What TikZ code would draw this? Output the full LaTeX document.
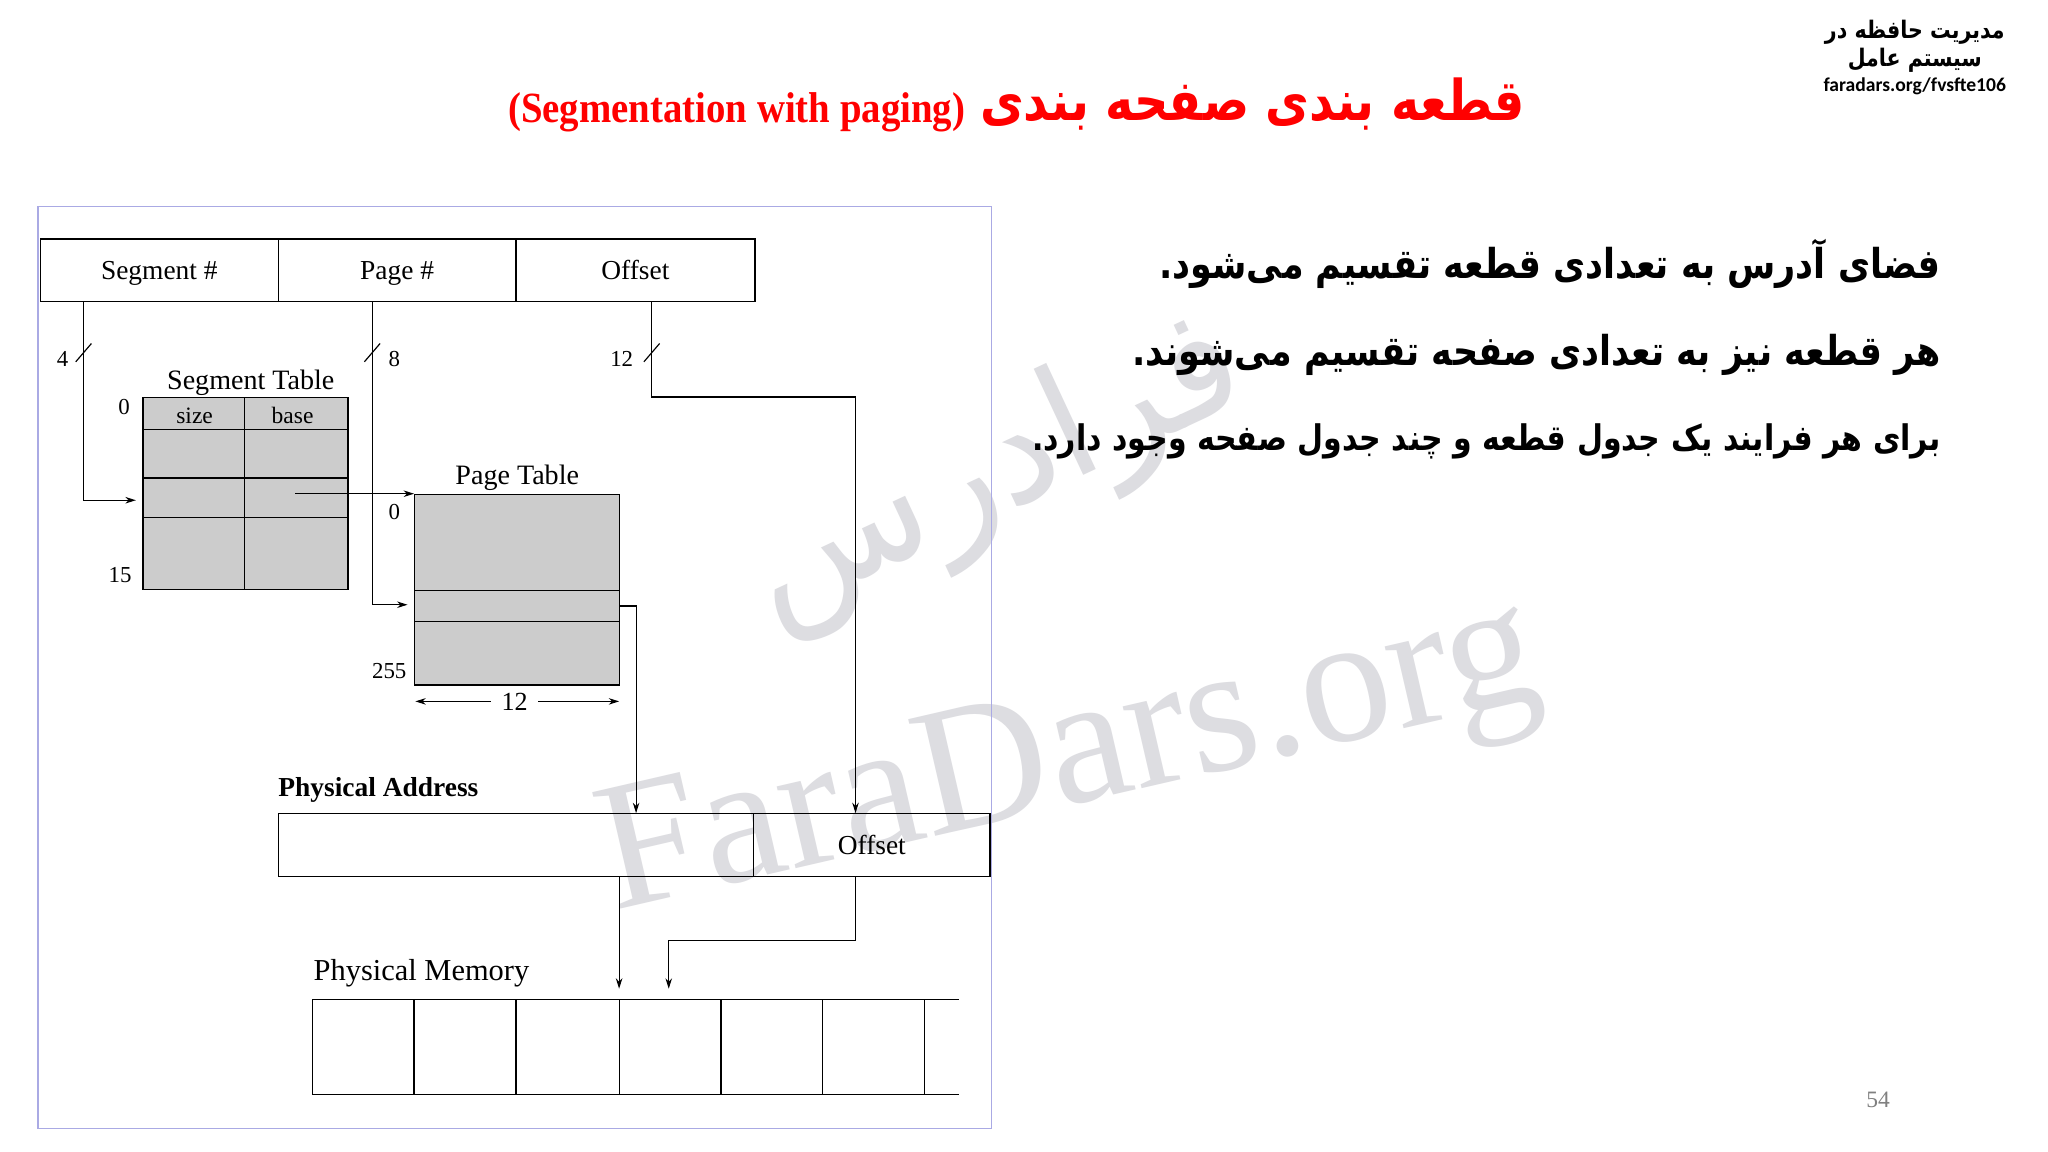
\documentclass[tikz,border=0pt]{standalone}
\usepackage{fontspec}
\setmainfont{Liberation Serif}
\newfontfamily\fa[Script=Arabic]{DejaVu Sans}
\newfontfamily\fanar[Script=Arabic,FakeStretch=0.85]{DejaVu Sans}
\newfontfamily\condserif[FakeStretch=0.9]{Liberation Serif}
\newfontfamily\calfont{Carlito}
\TeXXeTstate=1
\usetikzlibrary{arrows.meta,calc}
\definecolor{framec}{RGB}{170,170,228}
\definecolor{cellgray}{RGB}{204,204,204}
\definecolor{titlered}{RGB}{255,0,0}
\definecolor{wm}{RGB}{221,221,225}
\newcommand{\fs}[1]{\fontsize{#1}{#1}\selectfont}
\begin{document}
\begin{tikzpicture}[x=1pt,y=-1pt,
  ln/.style={line width=0.9pt},
  arr/.style={ln,-{Stealth[length=8pt,width=5pt]}},
  reg/.style={draw,ln,minimum height=48pt,inner sep=0pt,text height=14pt,text depth=0pt,font=\fs{21}},
  lbl/.style={inner sep=0pt,font=\fs{21.5}},
  small/.style={inner sep=0pt,font=\fs{17.5}},
  faline/.style={inner sep=0pt,anchor=east,font=\fanar\bfseries}
]
\useasboundingbox[fill=white] (0,0) rectangle (1568,882);

% watermarks
\node[inner sep=0pt,text=wm,rotate=25,font=\fa\fs{118}] (wmfa) at (762,362) {\beginR فرادرس\endR};
\node[inner sep=0pt,text=wm,rotate=13,font=\fs{140}] (wmen) at (820,585) {FaraDars.org};

% title
\node[inner sep=0pt,text=titlered,font=\fanar\bfseries\fs{43}] (tfa) at (959,80) {\beginR قطعه بندی صفحه بندی\endR};
\node[inner sep=0pt,text=titlered,font=\condserif\bfseries\fs{33}] (ten) at (564,86) {(Segmentation with paging)};

% top right
\node[inner sep=0pt,font=\fanar\bfseries\fs{18.5}] (tr1) at (1466,25) {\beginR مدیریت حافظه در\endR};
\node[inner sep=0pt,font=\fanar\bfseries\fs{18.5}] (tr2) at (1466,46) {\beginR سیستم عامل\endR};
\node[inner sep=0pt,font=\calfont\bfseries\fs{15}] (tr3) at (1466,66) {faradars.org/fvsfte106};

% right text
\node[faline,font=\fanar\bfseries\fs{31.5}] (b1) at (1486,202) {\beginR فضای آدرس به تعدادی قطعه تقسیم می‌شود.\endR};
\node[faline,font=\fanar\bfseries\fs{31.5}] (b2) at (1486,272) {\beginR هر قطعه نیز به تعدادی صفحه تقسیم می‌شوند.\endR};
\node[faline,font=\fanar\bfseries\fs{27}] (b3) at (1486,338) {\beginR برای هر فرایند یک جدول قطعه و چند جدول صفحه وجود دارد.\endR};

% page number
\node[inner sep=0pt,text=gray,font=\fs{18}] (pno) at (1438,842) {54};

% frame
\draw[framec,line width=1pt] (29,158) rectangle (759,864);

% logical address register
\node[reg,minimum width=182pt] (seg) at (122,207) {Segment \#};
\node[reg,minimum width=182pt] (pg) at (304,207) {Page \#};
\node[reg,minimum width=183pt] (off) at (486.5,207) {Offset};

% segment table
\node[lbl] (stl) at (192,293) {Segment Table};
\node[draw,ln,fill=cellgray,minimum width=157pt,minimum height=147pt,inner sep=0pt,anchor=north west] (st) at (109,304) {};
\draw[ln] (187,304) -- (187,451);
\draw[ln] (109,329) -- (266,329);
\draw[ln] (109,366) -- (266,366);
\draw[ln] (109,396) -- (266,396);
\node[small,font=\fs{18}] (sz) at (149,318) {size};
\node[small,font=\fs{18}] (bs) at (224,318) {base};
\node[small] (st0) at (95,312) {0};
\node[small] (st15) at (92,440) {15};

% page table
\node[lbl] (ptl) at (396,366) {Page Table};
\node[draw,ln,fill=cellgray,minimum width=157pt,minimum height=146pt,inner sep=0pt,anchor=north west] (pt) at (317,378) {};
\draw[ln] (317,452) -- (474,452);
\draw[ln] (317,476) -- (474,476);
\node[small] (pt0) at (302,392) {0};
\node[small] (pt255) at (298,514) {255};
\node[small,font=\fs{20}] (dim) at (394,537) {12};
\draw[arr] (dim.west) ++(-8,0) -- (318,537);
\draw[arr] (dim.east) ++(8,0) -- (474,537);

% physical address
\node[lbl,font=\bfseries\fs{21},anchor=west] (pal) at (213,605) {Physical Address};
\node[reg,minimum width=364pt] (pa1) at (395,647) {};
\node[reg,minimum width=181pt] (pa2) at (667.5,647) {Offset};

% physical memory
\node[lbl,font=\fs{23.3},anchor=west] (pml) at (240,745) {Physical Memory};
\draw[ln] (734,765) -- (239,765) -- (239,838) -- (734,838);
\foreach \x in {317,395,474,552,630,708} \draw[ln] (\x,765) -- (\x,838);
\coordinate (pmt1) at (474,757);
\coordinate (pmt2) at (512,757);

% connectors
\coordinate (stin) at (104,383);
\coordinate (ptin) at (312,463);
\draw[arr] (seg.south -| 64,0) -- (64,383) -- (stin);
\draw[arr] (pg.south -| 285,0) -- (285,463) -- (ptin);
\draw[arr] (off.south -| 499,0) -- (499,304) -- (655,304) -- (pa2.north -| 655,0);
\draw[arr] (226,378) -- (pt.north west);
\draw[arr] (474,464) -- (487,464) -- (pa1.north -| 487,0);
\draw[arr] (pa1.south -| 474,0) -- (pmt1);
\draw[arr] (pa2.south -| 655,0) -- (655,720) -- (512,720) -- (pmt2);

% bit-width ticks
\foreach \x in {64,285,499} \draw[ln] (\x-6,277) -- (\x+6,263);
\node[small] (w4) at (48,275) {4};
\node[small] (w8) at (302,275) {8};
\node[small] (w12) at (476,275) {12};
\end{tikzpicture}
\end{document}
